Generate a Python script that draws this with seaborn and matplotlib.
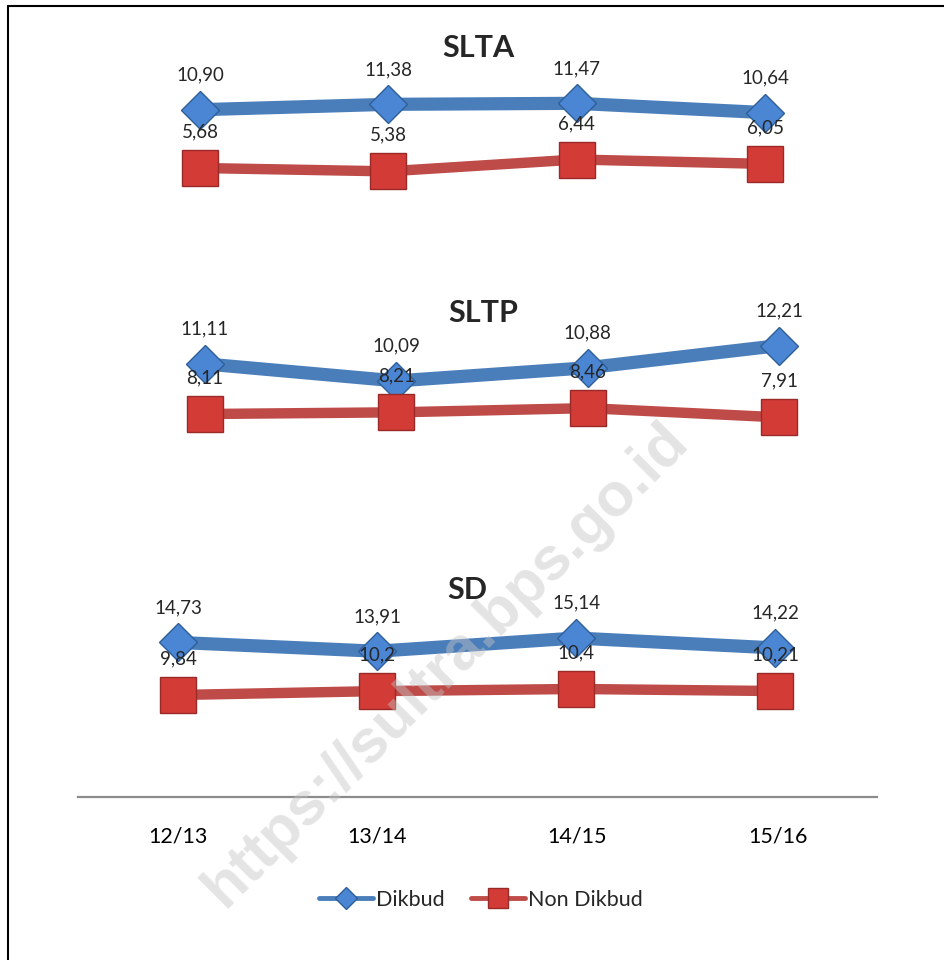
import matplotlib
matplotlib.use("Agg")
import matplotlib.pyplot as plt
from matplotlib.lines import Line2D
import seaborn as sns

# data
years = ["12/13", "13/14", "14/15", "15/16"]

slta_dikbud = [10.90, 11.38, 11.47, 10.64]
slta_non = [5.68, 5.38, 6.44, 6.05]
sltp_dikbud = [11.11, 10.09, 10.88, 12.21]
sltp_non = [8.11, 8.21, 8.46, 7.91]
sd_dikbud = [14.73, 13.91, 15.14, 14.22]
sd_non = [9.84, 10.2, 10.4, 10.21]
sd_non_labels = ["9,84", "10,2", "10,4", "10,21"]

W, H = 944, 960
BLUE_LINE, BLUE_FACE, BLUE_EDGE = "#4A7EBB", "#4A86D4", "#2F5F9A"
RED_LINE, RED_FACE, RED_EDGE = "#BE4B48", "#D23B36", "#9A2A27"

sns.set_theme(style="white")
plt.rcParams["font.family"] = ["Lato", "DejaVu Sans"]

fig = plt.figure(figsize=(W / 100, H / 100), dpi=100)


def place(ax, x_first, x_last, y_ref, v_ref, px_per_unit, top, bottom):
    """pixel layout -> axes position + limits"""
    step = (x_last - x_first) / 3
    left = x_first - 0.5 * step
    ax.set_position([left / W, 1 - bottom / H, 4 * step / W, (bottom - top) / H])
    ax.set_xlim(-0.5, 3.5)
    ax.set_ylim(v_ref - (bottom - y_ref) / px_per_unit,
                v_ref + (y_ref - top) / px_per_unit)
    ax.axis("off")


def fmt(v):
    return f"{v:.2f}".replace(".", ",")


def draw_panel(ax, dikbud, non, non_labels=None):
    xs = list(range(len(years)))
    sns.lineplot(x=xs, y=dikbud, ax=ax, color=BLUE_LINE, lw=9.5, marker="D",
                 ms=19, markerfacecolor=BLUE_FACE, markeredgecolor=BLUE_EDGE,
                 markeredgewidth=1, clip_on=False, zorder=3)
    sns.lineplot(x=xs, y=non, ax=ax, color=RED_LINE, lw=7.5, marker="s",
                 ms=25.5, markerfacecolor=RED_FACE, markeredgecolor=RED_EDGE,
                 markeredgewidth=1, clip_on=False, zorder=4)
    if non_labels is None:
        non_labels = [fmt(v) for v in non]
    for x, v in zip(xs, dikbud):
        ax.annotate(fmt(v), (x, v), xytext=(0, 25), textcoords="offset points",
                    ha="center", va="center", fontsize=13.5, zorder=6,
                    annotation_clip=False)
    for x, v, lab in zip(xs, non, non_labels):
        ax.annotate(lab, (x, v), xytext=(0, 26), textcoords="offset points",
                    ha="center", va="center", fontsize=13.5, zorder=6,
                    annotation_clip=False)


ax1 = fig.add_axes([0, 0, 1, 1])
ax2 = fig.add_axes([0, 0, 1, 1])
ax3 = fig.add_axes([0, 0, 1, 1])

draw_panel(ax1, slta_dikbud, slta_non)
draw_panel(ax2, sltp_dikbud, sltp_non)
draw_panel(ax3, sd_dikbud, sd_non, sd_non_labels)

place(ax1, 200, 765, 168, 5.68, 11.17, 60, 200)
place(ax2, 205, 779, 414, 8.11, 16.7, 330, 440)
place(ax3, 178, 775, 695, 9.84, 10.75, 610, 720)

fig.text(478 / W, 1 - 48 / H, "SLTA", ha="center", va="center",
         fontsize=22, fontweight="bold")
fig.text(483 / W, 1 - 313 / H, "SLTP", ha="center", va="center",
         fontsize=22, fontweight="bold")
fig.text(467 / W, 1 - 590 / H, "SD", ha="center", va="center",
         fontsize=22, fontweight="bold")

# shared category axis at the bottom
axb = fig.add_axes([77.5 / W, 1 - 797 / H, 800 / W, 6 / H])
axb.set_xlim(-0.5, 3.5)
axb.set_xticks(range(len(years)))
axb.set_xticklabels(years, fontsize=15.5, color="black")
axb.set_yticks([])
for s in ["top", "left", "right"]:
    axb.spines[s].set_visible(False)
axb.spines["bottom"].set_color("#8C8C8C")
axb.spines["bottom"].set_linewidth(1.6)
axb.tick_params(axis="x", length=0, pad=21)
axb.patch.set_alpha(0)

handles = [
    Line2D([], [], color=BLUE_LINE, lw=3.5, marker="D", ms=11,
           markerfacecolor=BLUE_FACE, markeredgecolor=BLUE_EDGE),
    Line2D([], [], color=RED_LINE, lw=3.5, marker="s", ms=14,
           markerfacecolor=RED_FACE, markeredgecolor=RED_EDGE),
]
fig.legend(handles, ["Dikbud", "Non Dikbud"], loc="center",
           bbox_to_anchor=(481 / W, 1 - 900 / H), ncol=2, frameon=False,
           fontsize=15.5, handlelength=2.5, handletextpad=0.15,
           columnspacing=1.2)

# watermark
fig.text(447 / W, 1 - 665 / H, "https://sultra.bps.go.id", rotation=45,
         ha="center", va="center", fontsize=44, fontweight="bold",
         family=["Liberation Sans", "DejaVu Sans"], color="#C4C4C4",
         alpha=0.45, zorder=20)

# frame (left + top edges)
fig.add_artist(Line2D([8 / W, 8 / W], [0, 1 - 6 / H], transform=fig.transFigure,
                      color="black", lw=1.5))
fig.add_artist(Line2D([8 / W, 1], [1 - 6 / H, 1 - 6 / H],
                      transform=fig.transFigure, color="black", lw=1.5))

fig.savefig("out.png", dpi=100, facecolor="white")
